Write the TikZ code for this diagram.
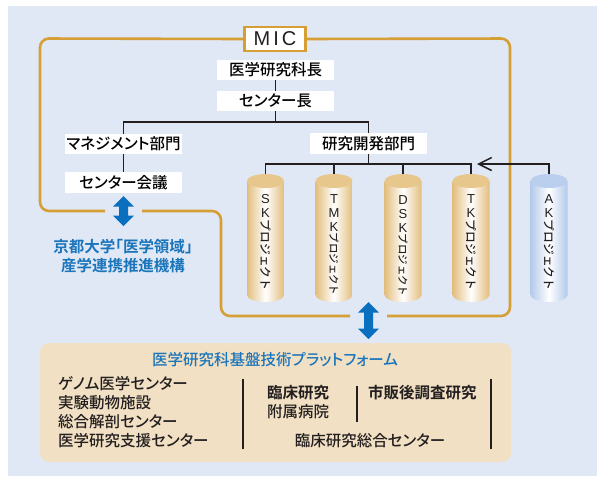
\documentclass[tikz,border=0pt]{standalone}
\usepackage{fontspec}
\setmainfont{Noto Sans CJK JP}[UprightFont={* Medium}, BoldFont={* Bold}, RawFeature=+palt]
\newfontfamily\jpfull{Noto Sans CJK JP}[UprightFont={* Medium}]
\newfontfamily\lat{Liberation Sans}
\usetikzlibrary{arrows.meta}
\definecolor{bgblue}{HTML}{E0E8F5}
\definecolor{gold}{HTML}{D59F35}
\definecolor{beige}{HTML}{F1E0C3}
\definecolor{tblue}{HTML}{1B75BB}
\definecolor{ablue}{HTML}{0B6FBF}
\definecolor{cyl}{HTML}{E2BE7E}
\definecolor{cyltop}{HTML}{E7C78C}
\definecolor{akb}{HTML}{B3CAEA}
\definecolor{aktop}{HTML}{BACFEE}
\definecolor{ink}{HTML}{231F20}
\newcommand\drawcyl[3]{%
  \shade[left color=#2, right color=#2, middle color=white]
    (#1-18.5,-181) -- (#1-18.5,-295)
    arc[start angle=180,end angle=360,x radius=18.5,y radius=7]
    -- (#1+18.5,-181) -- cycle;
  \fill[#3] (#1,-181) ellipse[x radius=18.5, y radius=7];
}
\newcommand\dblarrow[4]{% name, cx, cy, half length
  \coordinate (#1) at (#2,#3);
  \fill[ablue] (#2,#3+#4) -- (#2+10.5,#3+#4-10.5) -- (#2+4.5,#3+#4-10.5)
    -- (#2+4.5,#3-#4+10.5) -- (#2+10.5,#3-#4+10.5) -- (#2,#3-#4)
    -- (#2-10.5,#3-#4+10.5) -- (#2-4.5,#3-#4+10.5) -- (#2-4.5,#3+#4-10.5)
    -- (#2-10.5,#3+#4-10.5) -- cycle;
}
\tikzset{
  wbox/.style={fill=white, minimum width=117, minimum height=20.5, inner sep=0,
    font=\fontsize{15.5}{17}\selectfont},
  tree/.style={draw=ink, line width=1.5},
  goldline/.style={draw=gold, line width=2.6, rounded corners=9},
  cyllat/.style={font=\lat\fontsize{13}{14}\selectfont, align=center, inner sep=0, text=ink},
  cylkana/.style={rotate=-90, inner sep=0, text=ink},
  btxt/.style={font=\fontsize{15.5}{19}\selectfont, inner sep=0, text=ink},
  sep/.style={draw=ink, line width=1.2},
}
\begin{document}
\begin{tikzpicture}[x=1pt,y=1pt]
\useasboundingbox (0,0) rectangle (598,-477);
\fill[white] (0,0) rectangle (598,-477);
\fill[bgblue] (8,-6) rectangle (597,-476);

% bottom platform box
\fill[beige, rounded corners=9] (40,-343) rectangle (511,-462);

% cylinders
\drawcyl{265.5}{cyl}{cyltop}
\drawcyl{334}{cyl}{cyltop}
\drawcyl{403}{cyl}{cyltop}
\drawcyl{471}{cyl}{cyltop}
\drawcyl{549}{akb}{aktop}
\coordinate (sk) at (265.5,-174);
\coordinate (tmk) at (334,-174);
\coordinate (dsk) at (403,-174);
\coordinate (tk) at (471,-174);
\coordinate (ak) at (549,-174);

% cylinder labels
\node[cyllat] (skl) at (265.5,-206) {S\\K};
\node[cylkana, font=\jpfull\fontsize{11.7}{12}\selectfont] (skk) at (265.5,-255) {プロジェクト};
\node[cyllat] (tmkl) at (334,-213) {T\\M\\K};
\node[cylkana, font=\jpfull\fontsize{10.4}{12}\selectfont] (tmkk) at (334,-264) {プロジェクト};
\node[cyllat] (dskl) at (403,-214) {D\\S\\K};
\node[cylkana, font=\jpfull\fontsize{10.4}{12}\selectfont] (dskk) at (403,-265) {プロジェクト};
\node[cyllat] (tkl) at (471,-206) {T\\K};
\node[cylkana, font=\jpfull\fontsize{11.7}{12}\selectfont] (tkk) at (471,-255) {プロジェクト};
\node[cyllat] (akl) at (549,-206) {A\\K};
\node[cylkana, font=\jpfull\fontsize{11.7}{12}\selectfont] (akk) at (549,-255) {プロジェクト};

% MIC
\node[draw=gold, line width=2.6, fill=white, minimum width=61.5, minimum height=24,
  inner sep=0, font=\lat\fontsize{20}{20}\selectfont, text=ink] (mic) at (275,-39)
  {M\kern3pt I\kern3pt C};

% gold loop
\coordinate (g1) at (105,-211);
\coordinate (g2) at (142,-211);
\coordinate (g3) at (350,-316);
\coordinate (g4) at (387,-316);
\draw[goldline] (mic.west) -- (40,-38.5) -- (40,-211) -- (g1);
\draw[goldline] (g2) -- (221,-211) -- (221,-316) -- (g3);
\draw[goldline] (g4) -- (510,-316) -- (510,-38.5) -- (mic.east);

% org boxes
\node[wbox] (chief) at (275.5,-70) {医学研究科長};
\node[wbox] (cl) at (275.5,-101) {センター長};
\node[wbox] (mgmt) at (123.5,-144) {マネジメント部門};
\node[wbox] (meet) at (123.5,-182.5) {センター会議};
\node[wbox] (rd) at (368.5,-143.5) {研究開発部門};

% tree
\coordinate (j1) at (275.5,-122);
\coordinate (j2) at (368.5,-164);
\coordinate (akin) at (477,-164);
\draw[tree] (chief.south) -- (cl.north);
\draw[tree] (cl.south) -- (j1);
\draw[tree] (mgmt.north) -- (mgmt.north |- j1) -- (rd.north |- j1) -- (rd.north);
\draw[tree] (mgmt.south) -- (meet.north);
\draw[tree] (rd.south) -- (j2);
\draw[tree] (sk) -- (sk |- j2) -- (tk |- j2) -- (tk);
\draw[tree] (tmk) -- (tmk |- j2);
\draw[tree] (dsk) -- (dsk |- j2);
\draw[tree, -{Straight Barb[length=13pt, width=13pt, line width=1.5pt]}] (ak) -- (ak |- j2) -- (akin);

% blue arrows
\dblarrow{larr}{123.5}{-211}{15}
\dblarrow{rarr}{368.5}{-320.5}{18.5}

% Kyoto text
\node[font=\bfseries\fontsize{15.5}{19}\selectfont, text=tblue, align=center, inner sep=0]
  (kyoto) at (123,-256.5) {京都大学「医学領域」\\産学連携推進機構};

% platform contents
\node[font=\fontsize{15.5}{17}\selectfont, text=tblue, inner sep=0] (ptitle) at (275,-360) {医学研究科基盤技術プラットフォーム};
\node[btxt, anchor=west, align=left] (list) at (58,-412.5)
  {ゲノム医学センター\\実験動物施設\\総合解剖センター\\医学研究支援センター};
\node[btxt, anchor=west, align=left] (clin) at (267,-402.5)
  {\textbf{臨床研究}\\附属病院};
\node[btxt, anchor=west, font=\bfseries\fontsize{15.5}{19}\selectfont] (pms) at (368,-393) {市販後調査研究};
\node[btxt] (crc) at (370,-441) {臨床研究総合センター};
\coordinate (s1a) at (243,-379); \coordinate (s1b) at (243,-449);
\coordinate (s2a) at (357,-386); \coordinate (s2b) at (357,-422);
\coordinate (s3a) at (491,-379); \coordinate (s3b) at (491,-449);
\draw[sep] (s1a) -- (s1b);
\draw[sep] (s2a) -- (s2b);
\draw[sep] (s3a) -- (s3b);
\end{tikzpicture}
\end{document}
